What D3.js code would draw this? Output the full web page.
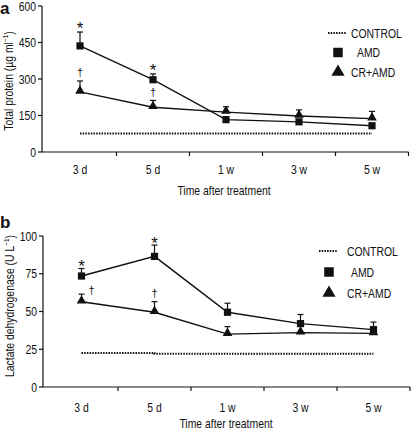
<!DOCTYPE html>
<html><head><meta charset="utf-8">
<script src="https://cdn.jsdelivr.net/npm/d3@7/dist/d3.min.js"></script>
<style>
body{margin:0;background:#fff;}
text{font-family:"Liberation Sans",Arial,sans-serif;fill:#111;}
</style></head><body>
<svg id="c" width="411" height="431"></svg>
<script>
const categories = ["3 d","5 d","1 w","3 w","5 w"];
// Panel a: total protein (µg/ml)
const proteinControl = [76,76,76,76,76];
const proteinAMD = [436,297,133,124,108];
const proteinAMDErr = [57,24,0,0,0];
const proteinCR = [247,184,164,148,137];
const proteinCRErr = [45,28,22,25,30];
const proteinTicks = [0,150,300,450,600];
const proteinStars = ["*","*","","",""];
const proteinDaggers = ["†","†","","",""];
// Panel b: lactate dehydrogenase (U/L)
const ldhControl = [22.5,22,22,22,22];
const ldhAMD = [73.5,86.5,49.5,42,38];
const ldhAMDErr = [5,7.5,6,6,5];
const ldhCR = [56.5,49.5,35,36,35.5];
const ldhCRErr = [5,7,5,0,0];
const ldhTicks = [0,25,50,75,100];
const ldhStars = ["*","*","","",""];
const ldhDaggers = ["†","†","","",""];

const svg = d3.select("#c");
const FS = 13;
const SX = 0.8; // horizontal condensing to mimic the narrow typeface

function ntext(g, x, y, str, anchor, rot){
  return g.append("text")
    .attr("transform", `translate(${x},${y})${rot ? " rotate(-90)" : ""} scale(${SX},1)`)
    .attr("text-anchor", anchor || "start").attr("font-size", FS).text(str);
}

function panel(o){
  const g = svg.append("g");
  const x = d3.scaleBand().domain(categories).range(o.xr).padding(0);
  const y = d3.scaleLinear().domain(o.ydom).range(o.yr);
  const cx = c => x(c) + x.bandwidth()/2;
  // y axis
  g.append("line").attr("x1",o.yAxisX).attr("x2",o.yAxisX).attr("y1",o.yr[1]).attr("y2",o.yr[0]).attr("stroke","#111").attr("stroke-width",1.2);
  o.ticks.forEach(t=>{
    g.append("line").attr("x1",o.yAxisX-4).attr("x2",o.yAxisX).attr("y1",y(t)).attr("y2",y(t)).attr("stroke","#111").attr("stroke-width",1.2);
    ntext(g, o.yAxisX-6, y(t)+4.7, t, "end");
  });
  // x axis
  g.append("line").attr("x1",o.yAxisX).attr("x2",o.xr[1]).attr("y1",o.yr[0]).attr("y2",o.yr[0]).attr("stroke","#111").attr("stroke-width",1.2);
  categories.forEach((c,i)=>{
    const bx = x(c) + x.bandwidth();
    g.append("line").attr("x1",bx).attr("x2",bx).attr("y1",o.yr[0]).attr("y2",o.yr[0]+4).attr("stroke","#111").attr("stroke-width",1.2);
    ntext(g, cx(c), o.yr[0]+o.tickLabDy, c, "middle");
  });
  ntext(g, o.xTitleX, o.yr[0]+o.xTitleDy, "Time after treatment", "middle");
  // y title
  const yt = ntext(g, o.yTitleX, o.yTitleY, "", "middle", true);
  yt.append("tspan").text(o.yTitle[0]);
  yt.append("tspan").attr("font-size",8).attr("dy",-5).text(o.yTitle[1]);
  yt.append("tspan").attr("dy",5).text(")");
  // panel letter
  g.append("text").attr("x",0).attr("y",o.letterY).attr("font-size",17).attr("font-weight","bold").text(o.letter);
  // control dotted
  const ctrl = d3.line().x((d,i)=>cx(categories[i])).y(d=>y(d)).curve(d3.curveStepAfter);
  g.append("path").attr("d",ctrl(o.control)).attr("fill","none").attr("stroke","#111").attr("stroke-width",2).attr("stroke-dasharray","1.5,1.2");
  const line = d3.line().x((d,i)=>cx(categories[i])).y(d=>y(d));
  // error bars
  function errs(vals, err){
    vals.forEach((v,i)=>{
      if(!err[i]) return;
      const X = cx(categories[i]);
      g.append("line").attr("x1",X).attr("x2",X).attr("y1",y(v)).attr("y2",y(v+err[i])).attr("stroke","#111").attr("stroke-width",1.2);
      g.append("line").attr("x1",X-3).attr("x2",X+3).attr("y1",y(v+err[i])).attr("y2",y(v+err[i])).attr("stroke","#111").attr("stroke-width",1.2);
    });
  }
  errs(o.amd,o.amdErr); errs(o.cr,o.crErr);
  g.append("path").attr("d",line(o.amd)).attr("fill","none").attr("stroke","#111").attr("stroke-width",1.4);
  g.append("path").attr("d",line(o.cr)).attr("fill","none").attr("stroke","#111").attr("stroke-width",1.4);
  const sq = d3.symbol().type(d3.symbolSquare).size(52);
  const tri = d3.symbol().type(d3.symbolTriangle).size(40);
  o.amd.forEach((v,i)=>g.append("path").attr("d",sq()).attr("transform",`translate(${cx(categories[i])},${y(v)})`).attr("fill","#111"));
  o.cr.forEach((v,i)=>g.append("path").attr("d",tri()).attr("transform",`translate(${cx(categories[i])},${y(v)-1})`).attr("fill","#111"));
  // significance
  o.stars.forEach((s,i)=>{ if(!s) return;
    g.append("text").attr("x",cx(categories[i])).attr("y",y(o.amd[i]+o.amdErr[i])+2+o.starDy).attr("text-anchor","middle").attr("font-size",17).style("fill","#111").text(s);
  });
  o.daggers.forEach((s,i)=>{ if(!s) return;
    const off = o.daggerDx[i]||0;
    g.append("text").attr("x",cx(categories[i])+off).attr("y",y(o.cr[i]+o.crErr[i])+o.daggerDy[i]).attr("text-anchor","middle").attr("font-size",11).style("fill","#111").text(s);
  });
  // legend
  const L = o.legend;
  g.append("line").attr("x1",L.x-10).attr("x2",L.x+8).attr("y1",L.y).attr("y2",L.y).attr("stroke","#111").attr("stroke-width",2).attr("stroke-dasharray","1.5,1.2");
  ntext(g, L.tx, L.y+4.7, "CONTROL");
  g.append("path").attr("d",d3.symbol().type(d3.symbolSquare).size(90)()).attr("transform",`translate(${L.x},${L.y+L.dy})`).attr("fill","#111");
  ntext(g, L.tx+L.amdDx, L.y+L.dy+4.7, "AMD");
  g.append("path").attr("d",d3.symbol().type(d3.symbolTriangle).size(75)()).attr("transform",`translate(${L.x},${L.y+2*L.dy})`).attr("fill","#111");
  ntext(g, L.tx, L.y+2*L.dy+4.7, "CR+AMD");
}

panel({xr:[43.5,408.5], yr:[152,6], ydom:[0,600], yAxisX:42, ticks:proteinTicks,
  tickLabDy:22, xTitleDy:43,
  xTitleX:224, yTitleX:12.5, yTitleY:81, yTitle:["Total protein (µg ml","−1"], letter:"a", letterY:14,
  control:proteinControl, amd:proteinAMD, amdErr:proteinAMDErr, cr:proteinCR, crErr:proteinCRErr,
  stars:proteinStars, starDy:0, daggers:proteinDaggers, daggerDx:[0,0], daggerDy:[-5,-4],
  legend:{x:338, y:33, dy:19.5, tx:351, amdDx:6}});
panel({xr:[45,410], yr:[387,236], ydom:[0,100], yAxisX:43, ticks:ldhTicks,
  tickLabDy:25, xTitleDy:41,
  xTitleX:226, yTitleX:13.5, yTitleY:306, yTitle:["Lactate dehydrogenase (U L","−1"], letter:"b", letterY:228,
  control:ldhControl, amd:ldhAMD, amdErr:ldhAMDErr, cr:ldhCR, crErr:ldhCRErr,
  stars:ldhStars, starDy:2, daggers:ldhDaggers, daggerDx:[10,0], daggerDy:[0,-5],
  legend:{x:329, y:251, dy:21, tx:347, amdDx:4}});
</script>
</body></html>
